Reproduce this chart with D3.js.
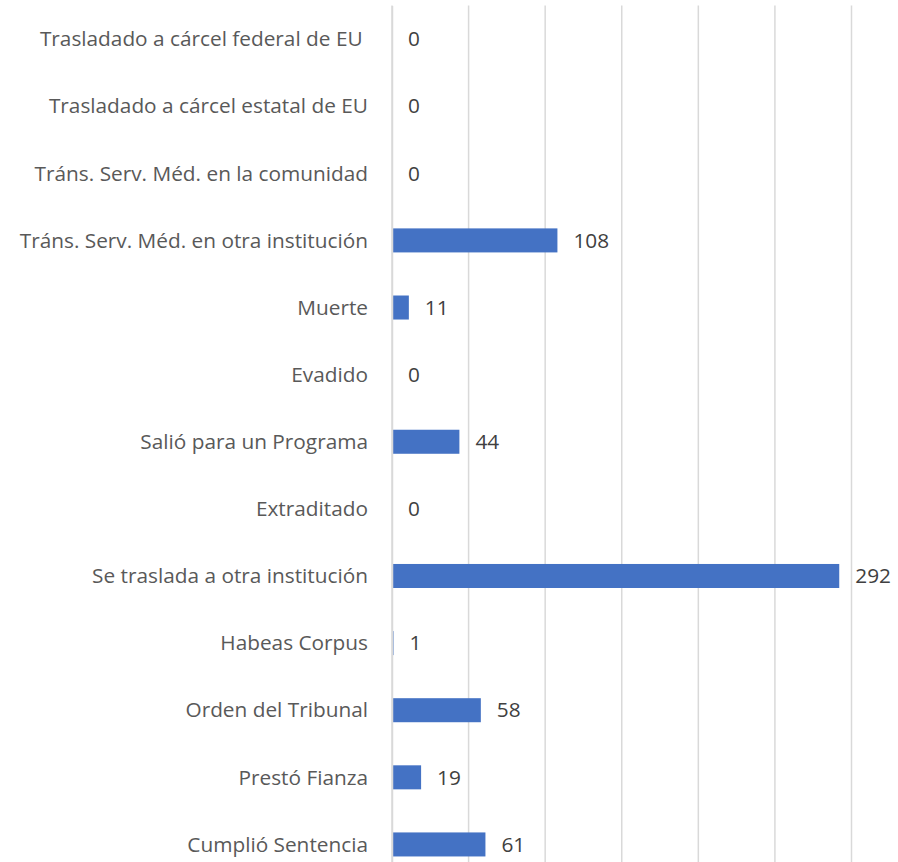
<!DOCTYPE html>
<html>
<head>
<meta charset="utf-8">
<script src="https://cdn.jsdelivr.net/npm/d3@7"></script>
<style>
  html, body { margin: 0; padding: 0; background: #fff; }
  svg { display: block; }
  text { white-space: pre; }
</style>
</head>
<body>
<div id="chart"></div>
<script>
// categorias de arriba hacia abajo
const categorias = [
  "Trasladado a cárcel federal de EU ",
  "Trasladado a cárcel estatal de EU",
  "Tráns. Serv. Méd. en la comunidad",
  "Tráns. Serv. Méd. en otra institución",
  "Muerte",
  "Evadido",
  "Salió para un Programa",
  "Extraditado",
  "Se traslada a otra institución",
  "Habeas Corpus",
  "Orden del Tribunal",
  "Prestó Fianza",
  "Cumplió Sentencia"
];
const valores = [0, 0, 0, 108, 11, 0, 44, 0, 292, 1, 58, 19, 61];
const ticks = [0, 50, 100, 150, 200, 250, 300];

const width = 898, height = 862;
const fuente = "'Open Sans', sans-serif";

const svg = d3.select("#chart").append("svg")
  .attr("width", width)
  .attr("height", height);

const x = d3.scaleLinear().domain([0, 300]).range([392, 851.5]);
const y = d3.scaleBand().domain(categorias).range([5.5, 878]).paddingInner(0.642).paddingOuter(0.321);

// lineas de la cuadricula
svg.selectAll(".grid")
  .data(ticks)
  .enter()
  .append("line")
  .attr("class", "grid")
  .attr("x1", d => x(d)).attr("x2", d => x(d))
  .attr("y1", 5.5).attr("y2", 878)
  .attr("stroke", "#d9d9d9")
  .attr("stroke-width", 1.5);

// barras
svg.selectAll(".bar")
  .data(valores)
  .enter()
  .append("rect")
  .attr("class", "bar")
  .attr("x", x(0))
  .attr("y", (d, i) => y(categorias[i]))
  .attr("width", d => x(d) - x(0))
  .attr("height", y.bandwidth())
  .attr("fill", "#4472c4");

// eje vertical (etiquetas)
const eje = svg.append("g")
  .attr("transform", `translate(${x(0)},0)`)
  .call(d3.axisLeft(y).tickSize(0).tickPadding(24));
eje.select(".domain").attr("stroke", "#d9d9d9").attr("stroke-width", 1.5);
eje.selectAll("text")
  .attr("fill", "#595959")
  .attr("dy", "0.35em")
  .style("font-family", fuente)
  .style("font-size", "20.8px");

// valores
svg.selectAll(".valor")
  .data(valores)
  .enter()
  .append("text")
  .attr("class", "valor")
  .attr("x", d => x(d) + 16)
  .attr("y", (d, i) => y(categorias[i]) + y.bandwidth() / 2)
  .attr("dy", "0.35em")
  .attr("fill", "#404040")
  .style("font-family", fuente)
  .style("font-size", "20.8px")
  .text(d => d);
</script>
</body>
</html>
